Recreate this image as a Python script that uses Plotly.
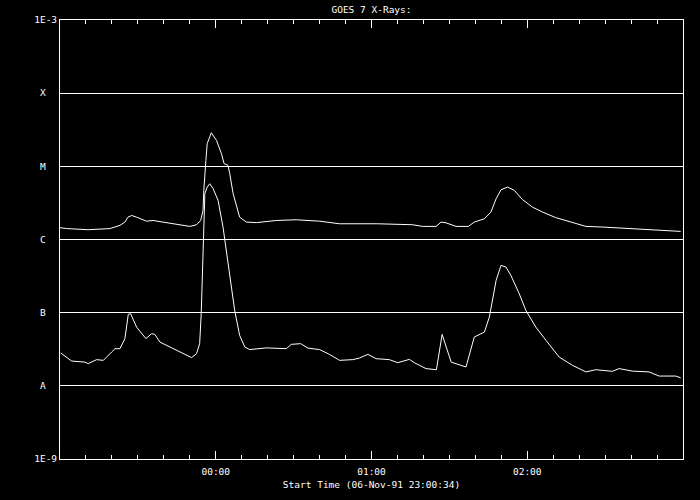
import pandas as pd
import plotly.graph_objects as go

# ---- data ----
start_time = "1991-11-06 23:00:00"

# long channel (upper curve): minutes after 23:00, flux W/m^2
long_minutes = [0, 2.6, 10.8, 19.2, 23.1, 25.0, 26.2, 27.6, 29.5, 33.3, 35.8, 42.3, 50.0, 52.6,
                54.2, 55.1, 55.4, 56.2, 56.7, 58.3, 60.3, 62.2, 63.2, 64.7, 65.4, 66.7, 68.0,
                69.2, 71.8, 75.7, 83.3, 91.0, 100.0, 107.7, 122.4, 135.9, 139.7, 144.9, 146.8,
                148.7, 152.6, 157.3, 159.6, 163.5, 166.0, 168.0, 169.9, 172.4, 175.0, 178.2,
                182.0, 185.9, 191.0, 197.4, 202.6, 209.0, 220.5, 228.2, 239.1]
long_flux = [1.45e-6, 1.41e-6, 1.36e-6, 1.41e-6, 1.56e-6, 1.73e-6, 2.02e-6, 2.13e-6, 2.02e-6,
             1.78e-6, 1.82e-6, 1.67e-6, 1.51e-6, 1.59e-6, 1.82e-6, 2.50e-6, 4.69e-6, 1.20e-5,
             2.04e-5, 2.88e-5, 2.26e-5, 1.49e-5, 1.09e-5, 1.03e-5, 7.92e-6, 4.23e-6, 2.77e-6,
             2.02e-6, 1.73e-6, 1.70e-6, 1.82e-6, 1.86e-6, 1.78e-6, 1.64e-6, 1.64e-6, 1.59e-6,
             1.51e-6, 1.51e-6, 1.73e-6, 1.69e-6, 1.51e-6, 1.51e-6, 1.73e-6, 1.92e-6, 2.37e-6,
             3.60e-6, 4.79e-6, 5.20e-6, 4.69e-6, 3.50e-6, 2.77e-6, 2.37e-6, 1.99e-6, 1.70e-6,
             1.51e-6, 1.48e-6, 1.41e-6, 1.36e-6, 1.29e-6]

# short channel (lower curve)
short_minutes = [0.3, 1.9, 4.5, 9.6, 10.9, 14.1, 16.7, 19.9, 21.2, 23.1, 25.0, 26.3, 27.2, 29.5,
                 33.1, 35.3, 36.5, 38.5, 43.6, 47.4, 50.7, 52.6, 53.8, 54.4, 55.1, 55.8, 56.7,
                 57.7, 59.0, 60.9, 62.8, 65.4, 67.3, 69.2, 71.2, 73.1, 79.5, 87.2, 89.1, 92.7,
                 95.5, 100.0, 103.8, 107.7, 112.8, 115.4, 118.6, 121.8, 126.9, 130.1, 134.6,
                 136.5, 141.0, 145.0, 147.2, 150.7, 156.4, 159.6, 163.5, 165.4, 168.0, 169.9,
                 171.8, 173.7, 176.9, 179.5, 183.3, 187.2, 192.3, 197.4, 202.6, 206.4, 212.8,
                 215.4, 220.5, 226.9, 230.8, 237.2, 239.1]
short_flux = [2.81e-8, 2.53e-8, 2.18e-8, 2.11e-8, 2.01e-8, 2.28e-8, 2.23e-8, 2.90e-8, 3.22e-8,
              3.22e-8, 4.42e-8, 9.48e-8, 9.68e-8, 6.35e-8, 4.42e-8, 5.16e-8, 5.06e-8, 3.96e-8,
              3.22e-8, 2.75e-8, 2.43e-8, 2.75e-8, 3.77e-8, 9.68e-8, 7.10e-7, 4.23e-6, 5.20e-6,
              5.78e-6, 4.94e-6, 3.42e-6, 1.48e-6, 3.41e-7, 1.07e-7, 4.90e-8, 3.39e-8, 3.13e-8,
              3.30e-8, 3.22e-8, 3.69e-8, 3.77e-8, 3.28e-8, 3.13e-8, 2.69e-8, 2.23e-8, 2.28e-8,
              2.40e-8, 2.69e-8, 2.35e-8, 2.28e-8, 2.07e-8, 2.30e-8, 2.07e-8, 1.72e-8, 1.66e-8,
              5.04e-8, 2.11e-8, 1.81e-8, 4.65e-8, 5.43e-8, 8.71e-8, 2.76e-7, 4.43e-7, 4.20e-7,
              3.23e-7, 1.82e-7, 1.07e-7, 6.35e-8, 4.19e-8, 2.47e-8, 1.91e-8, 1.55e-8, 1.66e-8,
              1.58e-8, 1.72e-8, 1.59e-8, 1.55e-8, 1.36e-8, 1.36e-8, 1.29e-8]

y_tick_values = [1e-9, 1e-8, 1e-7, 1e-6, 1e-5, 1e-4, 1e-3]
y_tick_labels = ["1E-9", "A", "B", "C", "M", "X", "1E-3"]
x_tick_values = ["1991-11-07 00:00", "1991-11-07 01:00", "1991-11-07 02:00"]
x_tick_labels = ["00:00", "01:00", "02:00"]
x_range = ["1991-11-06 23:00", "1991-11-07 03:00"]

title_text = "GOES 7 X-Rays:"
x_title = "Start Time (06-Nov-91 23:00:34)"

# ---- build ----
t0 = pd.Timestamp(start_time)
long_t = [t0 + pd.Timedelta(minutes=m) for m in long_minutes]
short_t = [t0 + pd.Timedelta(minutes=m) for m in short_minutes]

FONT = dict(family="DejaVu Sans Mono", size=9.5, color="white")
NB = "\u00a0"
padded_labels = [lab if len(lab) > 1 else lab + NB * 2 for lab in y_tick_labels]

fig = go.Figure()
fig.add_trace(go.Scatter(x=long_t, y=long_flux, mode="lines",
                         line=dict(color="white", width=1), showlegend=False,
                         hoverinfo="skip"))
fig.add_trace(go.Scatter(x=short_t, y=short_flux, mode="lines",
                         line=dict(color="white", width=1), showlegend=False,
                         hoverinfo="skip"))

fig.update_layout(
    width=700, height=500,
    paper_bgcolor="black", plot_bgcolor="black",
    margin=dict(l=60, r=17, t=20, b=41, autoexpand=False),
    font=FONT,
    title=dict(text=title_text, x=(60 + 683) / 2 / 700, xanchor="center",
               y=1 - 10 / 500, yanchor="middle", yref="container", font=FONT),
    showlegend=False,
)
fig.update_xaxes(
    type="date", range=x_range, automargin=False,
    tickmode="array", tickvals=x_tick_values, ticktext=x_tick_labels,
    ticks="inside", ticklen=8, tickwidth=1, tickcolor="white",
    ticklabelstandoff=4,
    minor=dict(ticks="inside", ticklen=4, tickwidth=1, tickcolor="white",
               dtick=600000, tick0="1991-11-06 23:00", showgrid=False),
    showline=True, linecolor="white", linewidth=1, mirror="allticks",
    showgrid=False, zeroline=False,
    tickfont=FONT,
    title=dict(text=x_title, font=FONT, standoff=4),
)
fig.update_yaxes(
    type="log", range=[-9, -3], automargin=False,
    tickmode="array", tickvals=y_tick_values, ticktext=padded_labels,
    ticks="", showline=True, linecolor="white", linewidth=1, mirror=True,
    showgrid=True, gridcolor="white", gridwidth=1, zeroline=False,
    tickfont=FONT,
)

fig.write_html(
    "out.html",
    config={"displayModeBar": False},
    post_script="document.body.style.margin='0';document.body.style.background='black';",
)
